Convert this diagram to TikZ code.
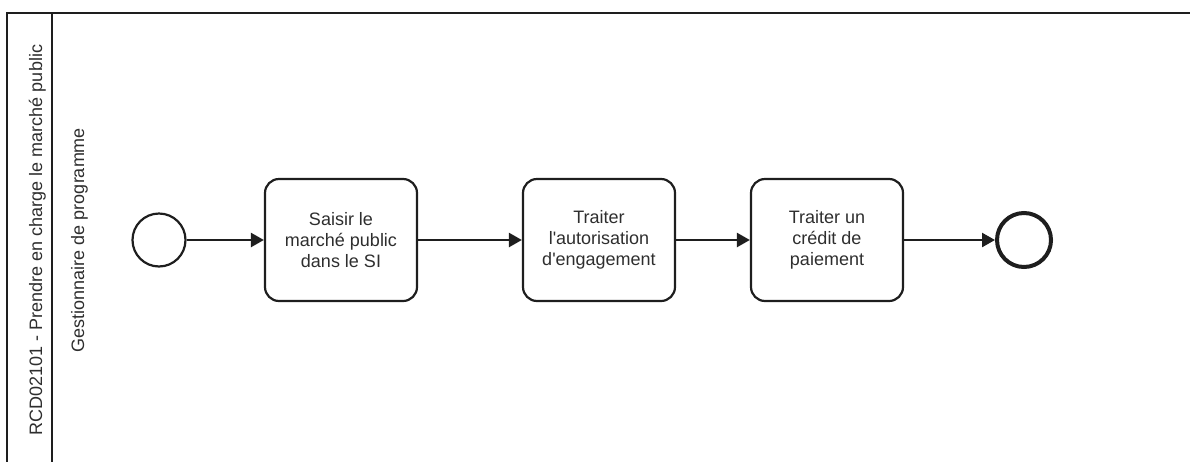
\documentclass[tikz,border=0pt]{standalone}
\usepackage{fontspec}
\setmainfont{Liberation Sans}
\usetikzlibrary{arrows.meta}
\definecolor{ink}{HTML}{1E1E1E}
\definecolor{txt}{HTML}{2E2E2E}
\tikzset{
  poolline/.style={draw=ink, line width=2.2pt},
  task/.style={draw=ink, line width=2.2pt, rectangle, rounded corners=14pt,
    minimum width=152pt, minimum height=122pt, inner sep=0pt,
    align=center, text=txt, font=\fontsize{18}{21}\selectfont},
  startev/.style={draw=ink, line width=2.2pt, circle, minimum size=53pt, inner sep=0pt},
  endev/.style={draw=ink, line width=4pt, circle, minimum size=54pt, inner sep=0pt},
  flow/.style={draw=ink, line width=2.4pt, -{Triangle[length=13pt,width=14pt]}},
  lbl/.style={rotate=90, anchor=base, text=txt, font=\fontsize{18}{21}\selectfont, inner sep=0pt}
}
\begin{document}
\begin{tikzpicture}[x=1pt, y=-1pt]
  \useasboundingbox (0,0) rectangle (1190,461);
  % pool frame and label band
  \coordinate (poolTR) at (1200,13);
  \coordinate (poolTL) at (7,13);
  \coordinate (poolBL) at (7,470);
  \coordinate (bandT) at (52,13);
  \coordinate (bandB) at (52,470);
  \draw[poolline] (poolTR) -- (poolTL) -- (poolBL);
  \draw[poolline] (bandT) -- (bandB);
  \node[lbl] (pool) at (42,240) {RCD02101 - Prendre en charge le marché public};
  \node[lbl] (lane) at (84,240) {Gestionnaire de programme};
  % process
  \node[startev] (start) at (159,240) {};
  \node[task] (t1) at (341,240) {Saisir le\\marché public\\dans le SI};
  \node[task] (t2) at (599,240) {Traiter\\l\textquotesingle autorisation\\d\textquotesingle engagement};
  \node[task] (t3) at (827,240) {Traiter un\\crédit de\\paiement};
  \node[endev] (end) at (1024,240) {};
  \draw[flow] (start) -- (t1);
  \draw[flow] (t1) -- (t2);
  \draw[flow] (t2) -- (t3);
  \draw[flow] (t3) -- (end);
\end{tikzpicture}
\end{document}
